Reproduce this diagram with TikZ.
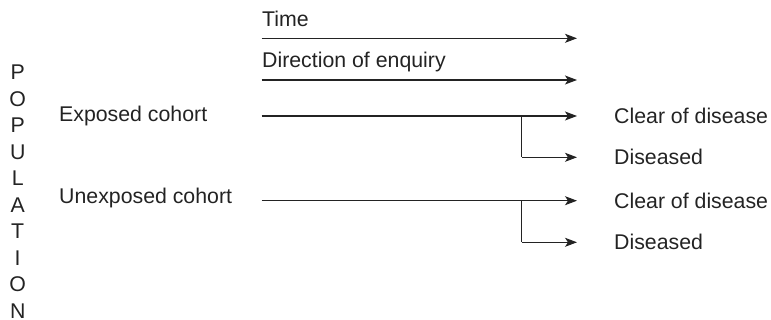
\documentclass[tikz,border=0pt]{standalone}
\usepackage{fontspec}
\setmainfont{Liberation Sans}
\usetikzlibrary{arrows.meta}
\definecolor{ink}{HTML}{232323}
\begin{document}
\begin{tikzpicture}[x=1pt,y=-1pt,
  lbl/.style={inner sep=0pt,anchor=base west,text=ink,font=\fontsize{21.3}{25}\selectfont},
  letter/.style={inner sep=0pt,anchor=center,text=ink,font=\fontsize{21.3}{25}\selectfont},
  flow/.style={draw=ink,line width=1.1pt,-{Stealth[length=12pt,width=9pt,inset=3pt]}},
  plain/.style={draw=ink,line width=1.1pt}]
\useasboundingbox (0,0) rectangle (771,320);

% vertical population label
\foreach \ch [count=\i] in {P,O,P,U,L,A,T,I,O,N}
  \node[letter] (pop\i) at (17.7,{72.5+26.5*(\i-1)}) {\vphantom{P}\ch};

% axis headings
\node[lbl] (time) at (262,27) {Time};
\node[lbl] (dir) at (262,68) {Direction of enquiry};
\coordinate (time0) at (261.5,38.3);
\coordinate (time1) at (577,38.3);
\coordinate (dir0) at (261.5,80);
\coordinate (dir1) at (577,80);
\draw[flow] (time0) -- (time1);
\draw[flow] (dir0) -- (dir1);

% cohorts
\node[lbl] (exp) at (59,121.7) {Exposed cohort};
\node[lbl] (unexp) at (59,204) {Unexposed cohort};

% outcomes
\node[lbl] (clear1) at (614,123.6) {Clear of disease};
\node[lbl] (dis1) at (614,164.9) {Diseased};
\node[lbl] (clear2) at (614,208.2) {Clear of disease};
\node[lbl] (dis2) at (614,249.9) {Diseased};

% exposed cohort branches
\coordinate (e0) at (261.5,116);
\coordinate (eb) at (521.7,116);
\coordinate (ec) at (577,116);
\coordinate (ed0) at (521.7,157.3);
\coordinate (ed) at (577,157.3);
\draw[flow] (e0) -- (ec);
\draw[plain] (eb) -- (ed0);
\draw[flow] (ed0) -- (ed);

% unexposed cohort branches
\coordinate (u0) at (261.5,200.7);
\coordinate (ub) at (521.7,200.7);
\coordinate (uc) at (577,200.7);
\coordinate (ud0) at (521.7,242.3);
\coordinate (ud) at (577,242.3);
\draw[flow] (u0) -- (uc);
\draw[plain] (ub) -- (ud0);
\draw[flow] (ud0) -- (ud);
\end{tikzpicture}
\end{document}
